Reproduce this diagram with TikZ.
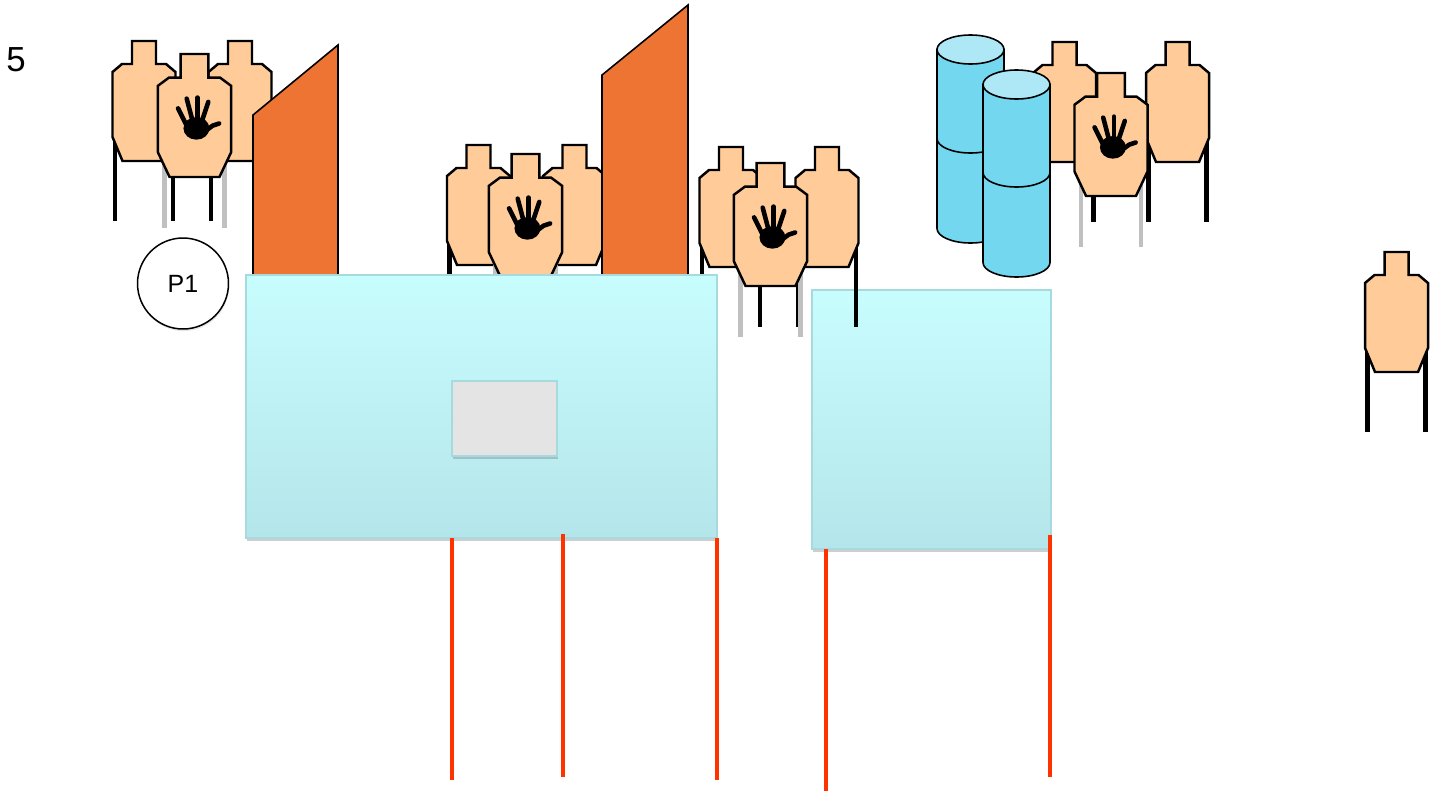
\documentclass[tikz,border=0pt]{standalone}
\usepackage{fontspec}
\setmainfont{Liberation Sans}
\usetikzlibrary{shadows}
\definecolor{TPeach}{HTML}{FFCC99}
\definecolor{TWall}{HTML}{EE7433}
\definecolor{TLegGray}{HTML}{C0C0C0}
\definecolor{TDrumSide}{HTML}{73D7EF}
\definecolor{TDrumTop}{HTML}{AEE7F5}
\definecolor{TBayTop}{HTML}{C8FDFE}
\definecolor{TBayBottom}{HTML}{B4E5EA}
\definecolor{TBayEdge}{HTML}{A6DADF}
\definecolor{TTable}{HTML}{E4E4E4}
\definecolor{TFault}{HTML}{FF3300}

% paper target outline, top centre at the origin
\newcommand{\silhouettepath}{(-12,0) -- (12,0) -- (12,23) -- (22,23) -- (31.5,31) -- (31.5,96) -- (21.5,120) -- (-21.5,120) -- (-31.5,96) -- (-31.5,31) -- (-22,23) -- (-12,23) -- cycle}
\newcommand{\drawhand}{%
  \begin{scope}[shift={(3,63)}, scale=1.08]
    \fill (-1,10.5) ellipse[x radius=12, y radius=10.5];
    \draw[finger] (-9,10) -- (-18,-8);
    \draw[finger] (-5,2) -- (-10,-17);
    \draw[finger] (0,2) -- (0,-18);
    \draw[finger] (4,4) -- (10,-14);
    \draw[finger] (6,14) -- (14,8) -- (20,6);
  \end{scope}}
\newcommand{\backtarget}[2]{%
  \begin{scope}[shift={(#1,#2)}]
    \draw[leg] (-29,90) -- (-29,180);
    \draw[leg] (29,90) -- (29,180);
    \filldraw[silhouette] \silhouettepath;
  \end{scope}}
\newcommand{\fronttarget}[2]{%
  \begin{scope}[shift={(#1,#2)}]
    \draw[leg, TLegGray] (-30,90) -- (-30,174);
    \draw[leg, TLegGray] (30,90) -- (30,174);
    \filldraw[silhouette, xscale=1.16, yscale=1.025] \silhouettepath;
    \drawhand
  \end{scope}}
% one drum: centre x, top y, bottom y
\newcommand{\drumpart}[3]{%
  \filldraw[drum] (#1-33.5,#2) -- (#1-33.5,#3) arc[start angle=180, end angle=0, x radius=33.5, y radius=14.5] -- (#1+33.5,#2) -- cycle;}
\newcommand{\drumlid}[2]{%
  \filldraw[drum, fill=TDrumTop] (#1,#2) ellipse[x radius=33.5, y radius=14.5];}

\begin{document}
\begin{tikzpicture}[x=0.02cm, y=-0.02cm,
  silhouette/.style={draw=black, fill=TPeach, line width=1.4pt, line join=miter},
  leg/.style={draw=black, line width=2.8pt},
  finger/.style={draw=black, line width=2.6pt, line cap=round, line join=round},
  wall/.style={draw=black, fill=TWall, line width=0.9pt},
  drum/.style={draw=black, fill=TDrumSide, line width=0.9pt},
  softshadow/.style={drop shadow={shadow xshift=0.5pt, shadow yshift=-1.8pt, opacity=0.35, fill=black!55}},
  bay/.style={draw=TBayEdge, line width=0.6pt, top color=TBayTop, bottom color=TBayBottom, softshadow},
  fault/.style={draw=TFault, line width=2.6pt}]
\useasboundingbox (0,0) rectangle (1435,791);

\path[bay] (812,290) rectangle (1051,549);

\backtarget{144}{41} \backtarget{240}{41} \fronttarget{194.5}{54}
\backtarget{478.5}{145} \backtarget{574.5}{145} \fronttarget{525.5}{154}
\backtarget{731}{147} \backtarget{827}{147} \fronttarget{770.5}{163}

\filldraw[wall] (253,115) -- (338,45) -- (338,285) -- (253,285) -- cycle;
\filldraw[wall] (602,75) -- (688,5) -- (688,285) -- (602,285) -- cycle;

\path[bay] (246,275) rectangle (717,538);
\filldraw[draw=TBayEdge, fill=TTable, line width=0.8pt, softshadow] (452,381) rectangle (557,456);

\backtarget{1064.5}{42} \backtarget{1177.5}{42} \fronttarget{1111}{73}

% stacked drums
\drumpart{970.5}{138.5}{228.5}
\drumpart{970.5}{49.5}{138.5} \drumlid{970.5}{49.5}
\drumpart{1016.5}{172.5}{262.5}
\drumpart{1016.5}{84.5}{172.5} \drumlid{1016.5}{84.5}

\backtarget{1396.5}{252}

\draw[fault] (452,538) -- (452,780);
\draw[fault] (563,534) -- (563,777);
\draw[fault] (717,538) -- (717,780);
\draw[fault, line width=2.2pt] (826,549) -- (826,791);
\draw[fault] (1050,535) -- (1050,777);

\node[circle, draw=black, fill=white, line width=0.85pt, minimum size=1.82cm, inner sep=0pt,
  font=\fontsize{14.2}{16}\selectfont,
  drop shadow={shadow xshift=0.4pt, shadow yshift=-1.2pt, opacity=0.2}] (p1) at (183,283.5) {P1};
\node[font=\fontsize{19.8}{22}\selectfont] (stageno) at (16,59.5) {5};
\end{tikzpicture}
\end{document}
